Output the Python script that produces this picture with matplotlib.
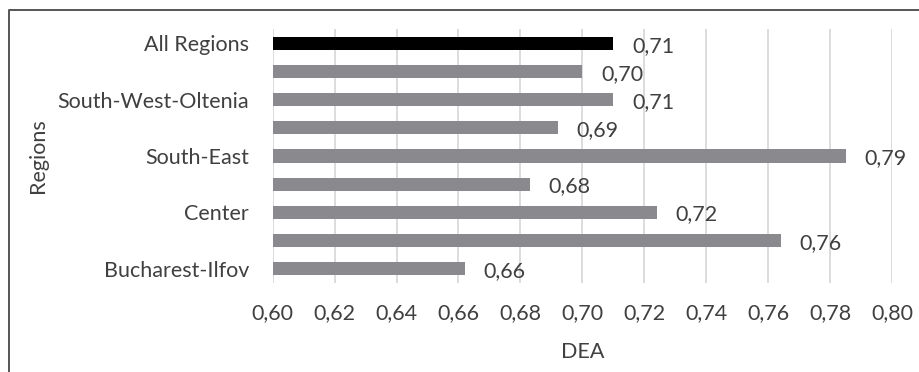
import matplotlib.pyplot as plt
from matplotlib.lines import Line2D
from matplotlib.ticker import FixedLocator, FuncFormatter

# DEA efficiency by development region, bottom to top
regions = ['Bucharest-Ilfov', 'West', 'Center', 'North-West', 'South-East',
           'North-East', 'South-West-Oltenia', 'South-Muntenia', 'All Regions']
dea = [0.662, 0.764, 0.724, 0.683, 0.785, 0.692, 0.710, 0.700, 0.710]
shown = ['Bucharest-Ilfov', 'Center', 'South-East', 'South-West-Oltenia', 'All Regions']
xticks = [0.60, 0.62, 0.64, 0.66, 0.68, 0.70, 0.72, 0.74, 0.76, 0.78, 0.80]

plt.rcParams['font.family'] = ['Lato', 'DejaVu Sans']
txt = '#404040'
fs = 15.5

fig = plt.figure(figsize=(9.2, 3.72), dpi=100)
ax = fig.add_axes([0.2964, 0.240, 0.9696 - 0.2964, 0.9212 - 0.240])

colors = ['black' if r == 'All Regions' else '#8a8a8e' for r in regions]
ypos = list(range(len(regions)))
ax.barh(ypos, [v - 0.60 for v in dea], left=0.60, height=0.47, color=colors, zorder=2)

for y, v in zip(ypos, dea):
    ax.text(v + 0.006, y - 0.08, f'{v:.2f}'.replace('.', ','), va='center', ha='left',
            fontsize=fs, color=txt)

ax.set_xlim(0.60, 0.80)
ax.set_ylim(-0.5, len(regions) - 0.5)
ax.xaxis.set_major_locator(FixedLocator(xticks))
ax.xaxis.set_major_formatter(FuncFormatter(lambda x, p: f'{x:.2f}'.replace('.', ',')))
ax.set_yticks(ypos)
ax.set_yticklabels([r if r in shown else '' for r in regions])
ax.tick_params(length=0, labelsize=fs, labelcolor=txt)
ax.tick_params(axis='x', pad=15)
ax.tick_params(axis='y', pad=17)
ax.grid(axis='x', color='#d9d9d9', linewidth=1.3, zorder=0)
for s in ax.spines.values():
    s.set_visible(False)

ax.set_xlabel('DEA', fontsize=fs, color=txt, labelpad=13)
ax.set_ylabel('Regions', fontsize=fs, color=txt, labelpad=7)

# outer frame: left and top edges only
fig.add_artist(Line2D([8.5 / 920, 8.5 / 920, 1.0], [0.0, 1 - 10 / 372, 1 - 10 / 372],
                      transform=fig.transFigure, color='#555555', linewidth=1.4))

fig.savefig('out.png', dpi=100)
